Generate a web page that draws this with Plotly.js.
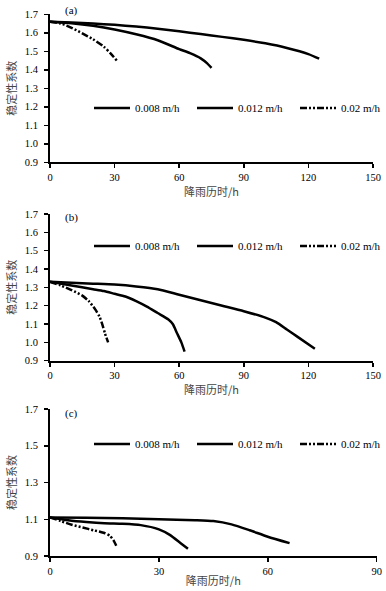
<!DOCTYPE html>
<html><head><meta charset="utf-8">
<script src="https://cdn.plot.ly/plotly-3.0.1.min.js"></script>
<style>html,body{margin:0;padding:0;background:#fff}#chart{width:386px;height:591px}</style>
</head><body><div id="chart"></div>
<script>
// Series names
const seriesNames = ['0.008 m/h', '0.012 m/h', '0.02 m/h'];
const panelLabels = ['(a)', '(b)', '(c)'];
const xTitle = '降雨历时/h';
const yTitle = '稳定性系数';

// Panel (a)
const a008x = [0, 10, 20, 30, 40, 50, 60, 70, 80, 90, 100, 110, 120, 125];
const a008y = [1.66, 1.656, 1.65, 1.643, 1.634, 1.622, 1.608, 1.593, 1.578, 1.562, 1.543, 1.518, 1.485, 1.46];
const a012x = [0, 10, 20, 30, 40, 50, 60, 65, 70, 73, 75];
const a012y = [1.66, 1.652, 1.638, 1.618, 1.592, 1.56, 1.512, 1.49, 1.462, 1.435, 1.41];
const a02x = [0, 5, 10, 15, 20, 25, 28, 31];
const a02y = [1.66, 1.65, 1.627, 1.597, 1.565, 1.525, 1.49, 1.45];

// Panel (b)
const b008x = [0, 10, 20, 30, 40, 50, 60, 70, 80, 90, 100, 105, 110, 115, 123];
const b008y = [1.33, 1.325, 1.32, 1.315, 1.305, 1.29, 1.26, 1.23, 1.2, 1.17, 1.135, 1.11, 1.07, 1.03, 0.965];
const b012x = [0, 10, 20, 25, 30, 35, 40, 45, 50, 55, 57, 59, 61, 62.5];
const b012y = [1.33, 1.31, 1.29, 1.28, 1.265, 1.25, 1.225, 1.195, 1.16, 1.125, 1.1, 1.05, 1.0, 0.95];
const b02x = [0, 5, 10, 15, 18, 21, 23, 24.5, 25.5, 27];
const b02y = [1.33, 1.31, 1.285, 1.255, 1.225, 1.18, 1.14, 1.09, 1.05, 1.0];

// Panel (c)
const c008x = [0, 10, 20, 30, 40, 45, 50, 55, 60, 66];
const c008y = [1.11, 1.108, 1.105, 1.1, 1.095, 1.09, 1.072, 1.04, 1.005, 0.97];
const c012x = [0, 5, 10, 15, 20, 25, 30, 33, 36, 38];
const c012y = [1.11, 1.095, 1.085, 1.078, 1.075, 1.068, 1.045, 1.015, 0.97, 0.94];
const c02x = [0, 3, 6, 9, 12, 15, 16.5, 17.5, 18.5];
const c02y = [1.11, 1.09, 1.07, 1.055, 1.04, 1.025, 1.01, 0.985, 0.945];

const xTicksAB = [0, 30, 60, 90, 120, 150];
const xTicksC = [0, 30, 60, 90];
const yTicksAB = [0.9, 1.0, 1.1, 1.2, 1.3, 1.4, 1.5, 1.6, 1.7];
const yTicksC = [0.9, 1.1, 1.3, 1.5, 1.7];

const W = 386, H = 591, L = 50, R = 9;
const PW = W - L - R;
const fy = p => 1 - p / H;
const fx = p => (p - L) / PW;

const serif = 'Liberation Serif';
const cjk = 'Noto Sans CJK SC';
const dashDot = '7px,2px,2px,2px,2px,2px';

const panels = [
  {xs: [a008x, a012x, a02x], ys: [a008y, a012y, a02y]},
  {xs: [b008x, b012x, b02x], ys: [b008y, b012y, b02y]},
  {xs: [c008x, c012x, c02x], ys: [c008y, c012y, c02y]}
];
const dashes = ['solid', 'solid', dashDot];
const legendRowY = [108, 246, 444];
const legendColX = [94, 197, 300];

const traces = [];
const layout = {
  width: W, height: H, margin: {l: L, r: R, t: 0, b: 0},
  paper_bgcolor: '#fff', plot_bgcolor: '#fff', showlegend: true
};

panels.forEach((p, i) => {
  const ax = i === 0 ? '' : String(i + 1);
  for (let k = 0; k < 3; k++) {
    const n = i * 3 + k;
    const lid = n === 0 ? 'legend' : 'legend' + (n + 1);
    traces.push({
      x: p.xs[k], y: p.ys[k], type: 'scatter', mode: 'lines',
      name: seriesNames[k], xaxis: 'x' + ax, yaxis: 'y' + ax,
      legend: lid,
      line: {color: '#000', width: 2.5, dash: dashes[k], shape: 'spline', smoothing: 0.6}
    });
    layout[lid] = {
      orientation: 'h', x: fx(legendColX[k] - 5), xanchor: 'left',
      y: fy(legendRowY[i]), yanchor: 'middle',
      font: {family: serif, size: 11, color: '#000'}, bgcolor: 'rgba(0,0,0,0)',
      itemwidth: 36
    };
  }
});

function xaxis(domainEnd, range, ticks, anchor) {
  return {
    domain: [0, domainEnd], range: range, tickvals: ticks, anchor: anchor,
    showgrid: false, zeroline: false, showline: true, linecolor: '#000', linewidth: 2,
    ticks: 'outside', ticklen: 4, tickwidth: 1.5, tickcolor: '#000',
    tickfont: {family: serif, size: 10.5, color: '#000'},
    title: {text: xTitle, font: {family: cjk, size: 11, color: '#444'}, standoff: 2}
  };
}
function yaxis(domain, ticks, anchor) {
  return {
    domain: domain, range: [0.9, 1.7], tickvals: ticks, tickformat: '.1f', anchor: anchor,
    showgrid: false, zeroline: false, showline: true, linecolor: '#000', linewidth: 2,
    ticks: 'outside', ticklen: 4, tickwidth: 1.5, tickcolor: '#000', ticklabelstandoff: 4,
    tickfont: {family: serif, size: 10.5, color: '#000'},
    title: {text: yTitle, font: {family: cjk, size: 11, color: '#444'}, standoff: 6}
  };
}

layout.xaxis = xaxis(fx(373), [0, 150], xTicksAB, 'y');
layout.yaxis = yaxis([fy(162.3), fy(14.3)], yTicksAB, 'x');
layout.xaxis2 = xaxis(fx(373), [0, 150], xTicksAB, 'y2');
layout.yaxis2 = yaxis([fy(360.7), fy(214)], yTicksAB, 'x2');
layout.xaxis3 = xaxis(fx(376.7), [0, 90], xTicksC, 'y3');
layout.yaxis3 = yaxis([fy(556), fy(409)], yTicksC, 'x3');
layout.annotations = panelLabels.map((t, i) => ({
  text: t, xref: 'paper', yref: 'paper', x: fx(63), y: fy([10, 218, 413][i]),
  xanchor: 'left', yanchor: 'middle', showarrow: false,
  font: {family: serif, size: 11, color: '#000'}
}));

Plotly.newPlot('chart', traces, layout, {displayModeBar: false, staticPlot: true});
</script></body></html>
